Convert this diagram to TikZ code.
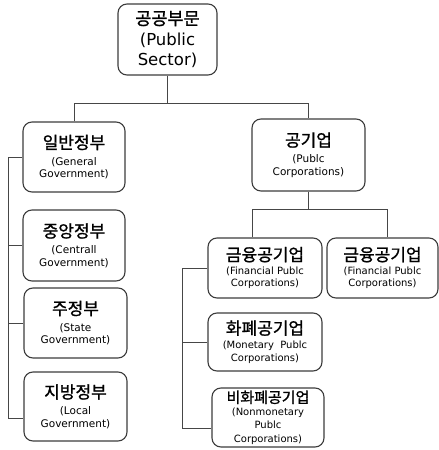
\documentclass[tikz,border=0pt]{standalone}
\usepackage{fontspec}
\setmainfont{DejaVu Sans}
\newfontfamily\kr{Noto Sans CJK KR}[FakeBold=1.2]
\usetikzlibrary{calc}
\definecolor{boxc}{RGB}{60,60,60}
\definecolor{linec}{RGB}{70,70,70}
\begin{document}
\begin{tikzpicture}[x=1pt,y=-1pt,
  box/.style={draw=boxc, line width=1.1pt, rounded corners=9pt, align=center, inner sep=0pt,
    font=\fontsize{10.5}{12.5}\selectfont},
  conn/.style={draw=linec, line width=1pt}]
\useasboundingbox (0,0) rectangle (439,450);
\newcommand\kt[2][17]{{\kr\fontsize{#1}{#1}\selectfont #2}}
% top
\node[box, minimum width=99pt, minimum height=71pt, font=\fontsize{16.5}{20}\selectfont] (ps) at (167.5,39.5)
  {\kt[17.5]{공공부문}\\[1pt](Public\\Sector)};
% left column
\node[box, minimum width=102pt, minimum height=70pt] (gg) at (74,157)
  {\kt{일반정부}\\[4pt](General\\Government)};
\node[box, minimum width=102pt, minimum height=71pt] (cg) at (74,245.5)
  {\kt{중앙정부}\\[4pt](Centrall\\Government)};
\node[box, minimum width=103pt, minimum height=70pt] (sg) at (75.5,323)
  {\kt{주정부}\\[4pt](State\\Government)};
\node[box, minimum width=103pt, minimum height=69pt] (lg) at (75.5,406.5)
  {\kt{지방정부}\\[4pt](Local\\Government)};
% right column
\node[box, minimum width=113pt, minimum height=72pt] (pc) at (308.5,155)
  {\kt{공기업}\\[4pt](Publc\\Corporations)};
\node[box, minimum width=114pt, minimum height=60pt, font=\fontsize{10}{12.5}\selectfont] (fc1) at (265,268)
  {\kt{금융공기업}\\[1pt](Financial Publc\\Corporations)};
\node[box, minimum width=111pt, minimum height=60pt, font=\fontsize{10}{12.5}\selectfont] (fc2) at (382.5,268)
  {\kt{금융공기업}\\[1pt](Financial Publc\\Corporations)};
\node[box, minimum width=114pt, minimum height=58pt, font=\fontsize{10}{13}\selectfont] (mc) at (265,342)
  {\kt{화폐공기업}\\[1pt](Monetary\ \ Publc\\Corporations)};
\node[box, minimum width=112pt, minimum height=59pt, font=\fontsize{10}{13.5}\selectfont] (nc) at (268,417.5)
  {\kt[15]{비화폐공기업}\\[-1pt](Nonmonetary\\Publc\\Corporations)};
% connectors top level
\coordinate (h1) at (167.5,103);
\draw[conn] (ps.south) -- (h1);
\draw[conn] (gg.north) |- (pc.north |- h1) -- (pc.north);
% left spine
\coordinate (s1) at (8,0);
\coordinate (lb) at ($(lg.west)+(0,11.5)$);
\draw[conn] (gg.west) -| (lb -| s1) -- (lb);
\draw[conn] (cg.west) -- (cg.west -| s1);
\draw[conn] (sg.west) -- (sg.west -| s1);
% public corporations
\coordinate (h2) at (307,209);
\coordinate (f1t) at ($(fc1.north)+(-13,0)$);
\coordinate (f2t) at ($(fc2.north)+(4.5,0)$);
\draw[conn] (pc.south) -- (pc.south |- h2);
\draw[conn] (f1t) |- (f2t |- h2) -- (f2t);
% right spine
\coordinate (s2) at (182,0);
\coordinate (nb) at ($(nc.west)+(0,10.5)$);
\draw[conn] (fc1.west) -| (nb -| s2) -- (nb);
\draw[conn] (mc.west) -- (mc.west -| s2);
\end{tikzpicture}
\end{document}
